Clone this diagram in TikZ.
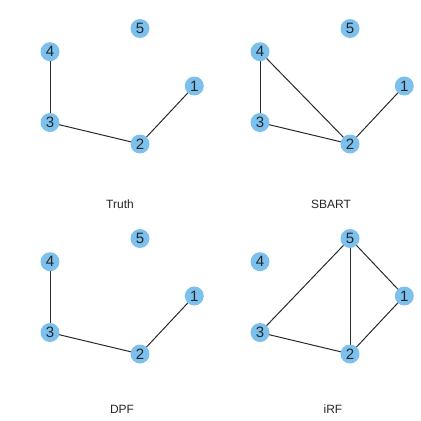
\documentclass[tikz,border=0pt]{standalone}
\usepackage{fontspec}
\setmainfont{Liberation Sans}
\definecolor{nodeblue}{HTML}{7CC0EE}
\definecolor{edgegray}{HTML}{2A2A2A}
\pgfdeclarelayer{bg}
\pgfsetlayers{bg,main}
\begin{document}
\begin{tikzpicture}[x=1pt,y=-1pt,
  vtx/.style={circle,fill=nodeblue,draw=none,minimum size=19pt,inner sep=0pt,font=\fontsize{15}{16}\selectfont,text=black!85},
  edge/.style={draw=edgegray,line width=1pt},
  lbl/.style={font=\fontsize{12}{13}\selectfont,text=black!85}]
\useasboundingbox (0,0) rectangle (421,421);
\foreach \px/\py/\pn in {0/0/a,210/0/b,0/210/c,210/210/d}{
  \begin{scope}[shift={(\px,\py)}]
    \node[vtx] (\pn5) at (140,28.5) {5};
    \node[vtx] (\pn4) at (50,51.7) {4};
    \node[vtx] (\pn1) at (194.3,86) {1};
    \node[vtx] (\pn3) at (50,122.5) {3};
    \node[vtx] (\pn2) at (140,144) {2};
  \end{scope}
}
\begin{pgfonlayer}{bg}
% Truth
\draw[edge] (a4.center) -- (a3.center);
\draw[edge] (a3.center) -- (a2.center);
\draw[edge] (a2.center) -- (a1.center);
% SBART
\draw[edge] (b4.center) -- (b3.center);
\draw[edge] (b4.center) -- (b2.center);
\draw[edge] (b3.center) -- (b2.center);
\draw[edge] (b2.center) -- (b1.center);
% DPF
\draw[edge] (c4.center) -- (c3.center);
\draw[edge] (c3.center) -- (c2.center);
\draw[edge] (c2.center) -- (c1.center);
% iRF
\draw[edge] (d5.center) -- (d3.center);
\draw[edge] (d5.center) -- (d2.center);
\draw[edge] (d5.center) -- (d1.center);
\draw[edge] (d3.center) -- (d2.center);
\draw[edge] (d2.center) -- (d1.center);
\end{pgfonlayer}
\node[lbl] (t1) at (120,204) {Truth};
\node[lbl] (t2) at (331,204) {SBART};
\node[lbl] (t3) at (122,409) {DPF};
\node[lbl] (t4) at (333,409) {iRF};
\end{tikzpicture}
\end{document}
